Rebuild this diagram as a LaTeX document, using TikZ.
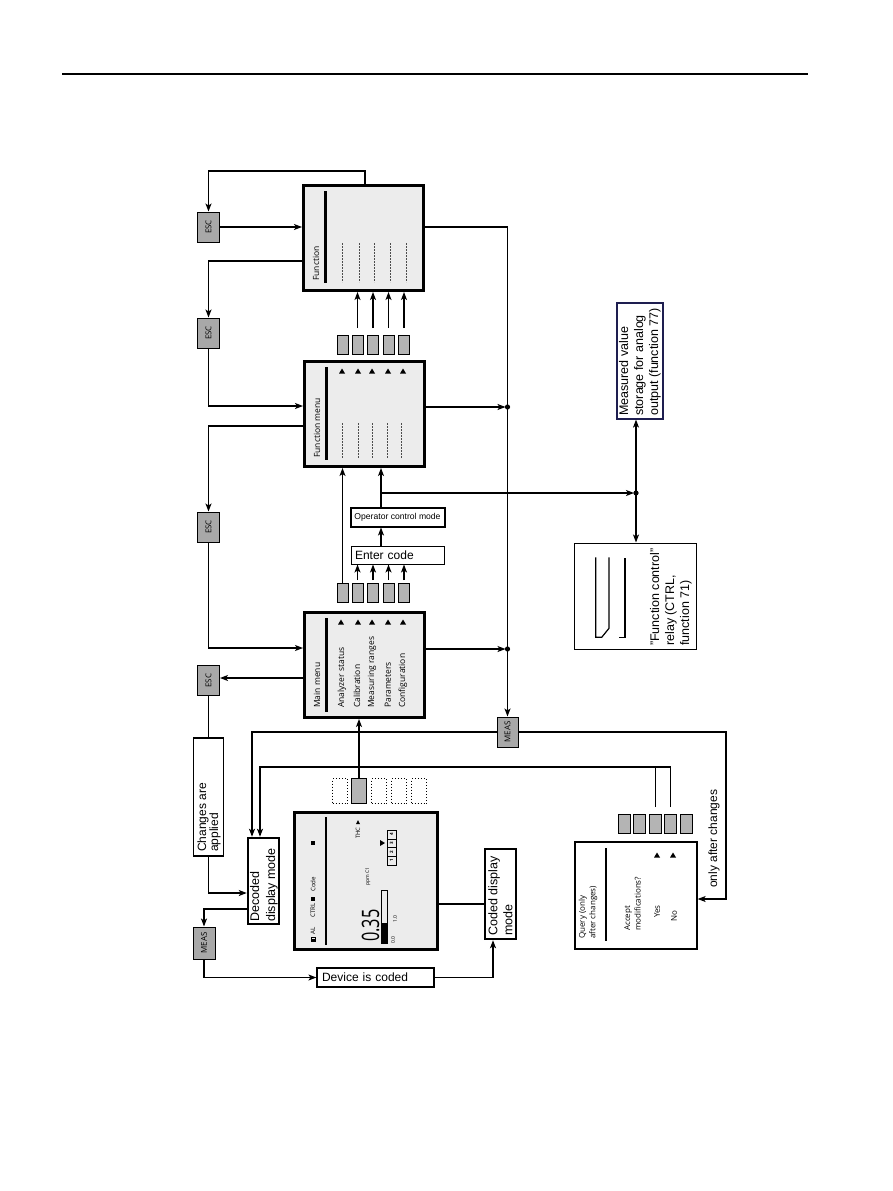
\documentclass[tikz,border=0pt]{standalone}
\usepackage{fontspec}
\setmainfont{Liberation Sans}
\newfontfamily\menufont{Open Sans}
\usetikzlibrary{arrows.meta}
\definecolor{boxgray}{RGB}{236,236,236}
\definecolor{keygray}{RGB}{180,180,180}
\definecolor{escgray}{RGB}{168,168,168}
\definecolor{navyline}{RGB}{30,30,80}
\tikzset{
  conn/.style={line width=1.2pt},
  arr/.style={conn,-{Stealth[length=8pt,width=6pt,inset=2pt]}},
  screen/.style={draw, line width=3pt, fill=boxgray, inner sep=0pt},
  keybox/.style={draw, line width=0.8pt, fill=keygray, minimum width=11pt, minimum height=19pt, inner sep=0pt},
  dkey/.style={draw, dotted, line width=1pt, fill=white, minimum width=15pt, minimum height=25pt, inner sep=0pt},
  esckey/.style={draw, line width=1pt, fill=escgray, minimum width=22pt, minimum height=30pt, inner sep=0pt},
  keytxt/.style={rotate=90, inner sep=0pt, font=\menufont\fontsize{8}{8}\selectfont},
  rtxt/.style={rotate=90, anchor=west, inner sep=0pt, align=left},
  mtxt/.style={rtxt, font=\menufont\fontsize{8.5}{10}\selectfont},
  qtxt/.style={rtxt, font=\menufont\fontsize{8}{10.5}\selectfont},
  tiny/.style={rtxt, font=\menufont\fontsize{6.2}{6.5}\selectfont},
  dashline/.style={line width=0.5pt, black!70, dash pattern=on 1.6pt off 1.4pt},
  thinbox/.style={draw, line width=1.1pt, inner sep=0pt},
  uptri/.pic={\fill (-3,2.5) -- (3,2.5) -- (0,-2.5) -- cycle;},
}
\begin{document}
\begin{tikzpicture}[x=1pt,y=-1pt]
\useasboundingbox (0,0) rectangle (893,1191);
% header rule
\draw[line width=1.5pt] (62,74) -- (808,74);

% ---------- screens ----------
\node[screen, minimum width=120pt, minimum height=105pt] (fn) at (363.5,238) {};
\node[screen, minimum width=120pt, minimum height=105pt] (fm) at (364.5,414) {};
\node[screen, minimum width=120pt, minimum height=105pt] (mm) at (364.5,665) {};
\node[screen, minimum width=143pt, minimum height=137pt] (disp) at (366,881) {};

\draw[line width=3pt] (325,191) -- (325,283);
\draw[line width=3pt] (326,367) -- (326,460);
\draw[line width=3pt] (326,618) -- (326,712);
\draw[line width=2.5pt] (326,817) -- (326,945);

\foreach \x in {342,359,374,390,406} \draw[dashline] (\x,243) -- (\x,282);
\foreach \x in {342,358,372,387,401} \draw[dashline] (\x,423) -- (\x,458);
\foreach \x in {342,358,372,388,403} \pic at (\x,371) {uptri};
\foreach \x in {341,358,372,388,403} \pic at (\x,622) {uptri};

\node[mtxt] (tfn) at (316,281) {Function};
\node[mtxt] (tfm) at (317,458) {Function menu};
\node[mtxt] (tmm) at (317,708) {Main menu};
\node[mtxt] (tm1) at (342,708) {Analyzer status};
\node[mtxt] (tm2) at (357,708) {Calibration};
\node[mtxt] (tm3) at (372,708) {Measuring ranges};
\node[mtxt] (tm4) at (388,708) {Parameters};
\node[mtxt] (tm5) at (403,708) {Configuration};

% ---------- keys ----------
\foreach \x [count=\i] in {342.5,357.5,373,388.5,404} \node[keybox] (kf\i) at (\x,345) {};
\foreach \x [count=\i] in {342.5,357.5,373,388.5,404} \node[keybox] (km\i) at (\x,593) {};
\foreach \x [count=\i] in {624.5,639.5,655.5,670.5,686} \node[keybox, minimum width=12pt] (kq\i) at (\x,824) {};
\foreach \x [count=\i] in {340,359,379,399,419} \node[dkey] (kd\i) at (\x,791) {};
\node[keybox, minimum width=15pt, minimum height=25pt] (kd2) at (359,791) {};

\foreach \i in {2,...,5} \draw[arr] ([yshift=7pt]kf\i.north) -- (kf\i.north |- fn.south);

% ---------- enter code / operator ----------
\node[thinbox, line width=1pt, minimum width=93pt, minimum height=18pt, text width=85pt, inner xsep=4pt, align=left, font=\fontsize{12}{12}\selectfont] (enter) at (397.5,555) {Enter code};
\node[draw, line width=2pt, minimum width=94pt, minimum height=19pt, inner sep=0pt, font=\fontsize{8.6}{9}\selectfont] (op) at (397.5,517) {Operator control mode};

\foreach \i in {2,...,5} \draw[arr] ([yshift=3pt]km\i.north) -- (km\i.north |- enter.south);
\draw[arr] (km1.north) -- (km1.north |- fm.south);
\draw[arr] (enter.north -| 381,0) -- (op.south -| 381,0);
\draw[arr] (op.north -| 381,0) -- (fm.south -| 381,0);

% ---------- measured value / relay ----------
\node[draw=navyline, line width=1.2pt, minimum width=46pt, minimum height=116pt, inner sep=0pt] (mv) at (640,361) {};
\node[rtxt, font=\fontsize{12.5}{15}\selectfont] (tmv) at (640,416) {Measured value\\storage for analog\\output (function 77)};
\node[thinbox, line width=1pt, minimum width=122pt, minimum height=106pt] (relay) at (635,596) {};
\node[rtxt, font=\fontsize{12.5}{15}\selectfont] (trelay) at (671,646) {"Function control"\\relay (CTRL,\\function 71)};
\draw[line width=1.2pt] (595.7,557.3) -- (595.7,637.3) -- (601.7,637.3) -- (609,628.3) -- (609,557.3);
\draw[line width=1.2pt] (625,558.3) -- (625,637.3) -- (619,637.3);

\coordinate (b1) at (381,493);
\coordinate (j1) at (636,493);
\draw[arr, shorten >=2pt] (b1) -- (j1);
\draw[arr] (j1) -- (j1 |- mv.south);
\draw[arr] (j1) -- (j1 |- relay.north);
\fill (j1) circle[radius=2.6pt];

% ---------- ESC keys ----------
\node[esckey] (esc1) at (208.5,227) {}; \node[keytxt] (tesc1) at (esc1) {ESC};
\node[esckey] (esc2) at (208.5,333) {}; \node[keytxt] (tesc2) at (esc2) {ESC};
\node[esckey] (esc3) at (208.5,527) {}; \node[keytxt] (tesc3) at (esc3) {ESC};
\node[esckey] (esc4) at (208.5,680.5) {}; \node[keytxt] (tesc4) at (esc4) {ESC};

\draw[arr] (fn.north -| 365,0) -- (365,171) -| (esc1.north);
\draw[arr] (esc1.east) -- (esc1.east -| fn.west);
\draw[arr] (fn.west |- 0,261) -| (esc2.north);
\draw[arr] (esc2.south) |- (fm.west |- 0,406);
\draw[arr] (fm.west |- 0,426) -| (esc3.north);
\draw[arr] (esc3.south) |- (mm.west |- 0,648);
\draw[arr] (mm.west |- 0,678) -- (esc4.east |- 0,678);

% ---------- left column ----------
\node[thinbox, minimum width=30pt, minimum height=118pt] (chg) at (208.5,797) {};
\node[rtxt, font=\fontsize{12}{12}\selectfont] (tchg) at (209,852) {Changes are\\applied};
\draw[conn] (esc4.south) -- (esc4.south |- chg.north);

\node[draw, line width=2.5pt, minimum width=31pt, minimum height=86pt, inner sep=0pt] (dec) at (263.5,881) {};
\node[rtxt, font=\fontsize{12.5}{16}\selectfont] (tdec) at (264,922) {Decoded\\display mode};
\draw[arr] (chg.south) |- (dec.west |- 0,893);

\node[esckey, minimum height=32pt] (meas1) at (204,943) {}; \node[keytxt] (tmeas1) at (meas1) {MEAS};
\draw[arr] (dec.west |- 0,909) -| (meas1.north);

\node[thinbox, line width=1.2pt, minimum width=117pt, minimum height=19pt, text width=107pt, inner xsep=5pt, align=left, font=\fontsize{12}{12}\selectfont] (devc) at (375.5,977.5) {Device is coded};
\draw[arr] (meas1.south) |- (devc.west);

\node[draw, line width=2.5pt, minimum width=31pt, minimum height=90pt, inner sep=0pt] (coded) at (500.5,894) {};
\node[rtxt, font=\fontsize{12.5}{15}\selectfont] (tcoded) at (500.5,936) {Coded display\\mode};
\draw[arr] (devc.east) -| ([xshift=-7.5pt]coded.south);
\draw[conn] (disp.east |- 0,904) -- (coded.west |- 0,904);

% ---------- MEAS 2 and vertical bus ----------
\node[esckey, minimum width=21pt] (meas2) at (507.5,732) {}; \node[keytxt] (tmeas2) at (meas2) {MEAS};
\draw[arr] (fn.east |- 0,227) -| (meas2.north);
\draw[arr, shorten >=2pt] (fm.east |- 0,407) -- (meas2.north |- 0,407);
\fill (meas2.north |- 0,407) circle[radius=2.6pt];
\draw[arr, shorten >=2pt] (mm.east |- 0,649) -- (meas2.north |- 0,649);
\fill (meas2.north |- 0,649) circle[radius=2.6pt];
\draw[arr] (meas2.west) -| ([xshift=-11.5pt]dec.north);

% ---------- query ----------
\node[thinbox, line width=1.3pt, minimum width=122pt, minimum height=107pt] (qry) at (636,895.5) {};
\draw[line width=1.5pt] (606,848) -- (606,941);
\node[qtxt] (tq1) at (588,939) {Query (only\\after changes)};
\node[qtxt] (tq2) at (632.5,931) {Accept\\modifications?};
\node[qtxt] (tq3) at (657,918) {Yes};
\node[qtxt] (tq4) at (674,922) {No};
\pic at (657,855) {uptri};
\pic at (673,855) {uptri};

\coordinate (c1) at (726,899);
\draw[arr] (meas2.east) -| (c1) -- (qry.east |- c1);
\node[rtxt, font=\fontsize{12}{12}\selectfont] (toac) at (714,888) {only after changes};

\draw[arr] ([yshift=7pt]kq4.north) -- (kq4.north |- 0,767) -| ([xshift=-3.5pt]dec.north);
\draw[conn] ([yshift=7pt]kq3.north) -- (kq3.north |- 0,767);

\draw[arr] (kd2.north) -- (kd2.north |- mm.south);

% ---------- display contents ----------
\draw[line width=0.7pt] (311,937) rectangle (315,941);
\fill (311,939) rectangle (315,941);
\node[tiny] (tal) at (313,935) {AL};
\node[tiny] (tctrl) at (313,918) {CTRL};
\fill (311,897) rectangle (315,901);
\node[tiny] (tcode) at (313,892) {Code};
\fill (311,841) rectangle (315,845);
\node[rotate=90, anchor=base west, inner sep=0pt, font=\menufont\fontsize{24}{24}\selectfont] (tval) at (379,942) {\scalebox{0.68}[1]{0.35}};
\node[tiny, font=\menufont\fontsize{5}{5}\selectfont] (tppm) at (368,886) {ppm C1};
\draw[line width=1pt] (381,890) rectangle (387,943);
\fill (381,923) rectangle (387,943);
\node[tiny, font=\menufont\fontsize{5}{5}\selectfont] (t00) at (393,944) {0.0};
\node[tiny, font=\menufont\fontsize{5}{5}\selectfont] (t10) at (395,923) {1.0};
\node[tiny, font=\menufont\fontsize{6}{6}\selectfont] (tthc) at (358,839) {THC};
\fill (356,824) -- (360,824) -- (358,820) -- cycle;
\draw[line width=0.9pt] (387,830) rectangle (396,865);
\foreach \y in {839,847.5,856} \draw[line width=0.7pt] (387,\y) -- (396,\y);
\foreach \n/\y in {1/860.5,2/851.75,3/843.25,4/834.5}
  \node[rotate=90, inner sep=0pt, font=\menufont\bfseries\fontsize{4.5}{4.5}\selectfont] at (391.5,\y) {\n};
\fill (380,840) -- (380,846) -- (385,843) -- cycle;
\end{tikzpicture}
\end{document}
